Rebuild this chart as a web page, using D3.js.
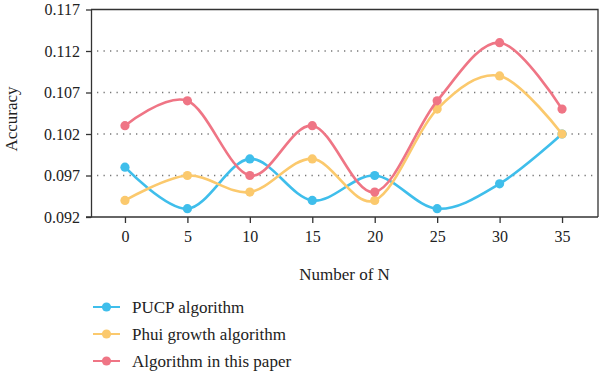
<!DOCTYPE html>
<html>
<head>
<meta charset="utf-8">
<script src="https://cdn.jsdelivr.net/npm/d3@7"></script>
<style>
  html, body { margin: 0; padding: 0; background: #fff; }
  svg text { font-family: "Liberation Serif", "DejaVu Serif", serif; fill: #222; }
</style>
</head>
<body>
<div id="chart"></div>
<script>
// Data
const nValues = [0, 5, 10, 15, 20, 25, 30, 35];
const pucp = [0.098, 0.093, 0.099, 0.094, 0.097, 0.093, 0.096, 0.102];
const phui = [0.094, 0.097, 0.095, 0.099, 0.094, 0.105, 0.109, 0.102];
const ours = [0.103, 0.106, 0.097, 0.103, 0.095, 0.106, 0.113, 0.105];
const yTicks = [0.092, 0.097, 0.102, 0.107, 0.112, 0.117];
const seriesNames = ["PUCP algorithm", "Phui growth algorithm", "Algorithm in this paper"];
const seriesColors = ["#3fbeeb", "#fbc96d", "#ef7585"];

const width = 600, height = 373;
const plotLeft = 91, plotRight = 598, plotTop = 9.5, plotBottom = 217;

const svg = d3.select("#chart").append("svg")
  .attr("width", width)
  .attr("height", height);

const x = d3.scaleLinear().domain([-2.72, 37.88]).range([plotLeft, plotRight]);
const y = d3.scaleLinear().domain([0.092, 0.117]).range([plotBottom, plotTop]);

// Dotted horizontal grid
svg.append("g")
  .selectAll("line")
  .data(yTicks.slice(1, -1))
  .join("line")
  .attr("x1", plotLeft + 6)
  .attr("x2", plotRight - 2)
  .attr("y1", d => y(d))
  .attr("y2", d => y(d))
  .attr("stroke", "#777")
  .attr("stroke-width", 1.3)
  .attr("stroke-dasharray", "1.3,5.2");

// Frame (top and right)
svg.append("path")
  .attr("d", `M ${plotLeft} ${plotTop} H ${plotRight} V ${plotBottom}`)
  .attr("fill", "none")
  .attr("stroke", "#333")
  .attr("stroke-width", 1.3);

// Axes
const xAxis = svg.append("g")
  .attr("transform", `translate(0,${plotBottom})`)
  .call(d3.axisBottom(x).tickValues(nValues).tickSize(6).tickPadding(8).tickSizeOuter(0));

const yAxis = svg.append("g")
  .attr("transform", `translate(${plotLeft},0)`)
  .call(d3.axisLeft(y).tickValues(yTicks).tickFormat(d3.format(".3f")).tickSize(5).tickPadding(6).tickSizeOuter(0));

[xAxis, yAxis].forEach(g => {
  g.select(".domain").attr("stroke", "#333").attr("stroke-width", 1.3);
  g.selectAll(".tick line").attr("stroke", "#333").attr("stroke-width", 1.3);
  g.selectAll(".tick text")
    .attr("font-family", "Liberation Serif, serif")
    .attr("font-size", "16px")
    .attr("fill", "#222");
});
// extend bottom axis line to the left under y ticks
xAxis.select(".domain").attr("d", `M${plotLeft - 5},0H${plotRight}`);

// Axis titles
svg.append("text")
  .attr("x", (plotLeft + plotRight) / 2)
  .attr("y", 280)
  .attr("text-anchor", "middle")
  .attr("font-size", "17px")
  .text("Number of N");

svg.append("text")
  .attr("transform", `translate(17,119) rotate(-90)`)
  .attr("text-anchor", "middle")
  .attr("font-size", "17px")
  .text("Accuracy");

// Lines and markers
const allSeries = [pucp, phui, ours];
const line = d3.line()
  .x((d, i) => x(nValues[i]))
  .y(d => y(d))
  .curve(d3.curveCardinal.tension(0));

allSeries.forEach((vals, k) => {
  svg.append("path")
    .datum(vals)
    .attr("d", line)
    .attr("fill", "none")
    .attr("stroke", seriesColors[k])
    .attr("stroke-width", 2.6);
  svg.append("g")
    .selectAll("circle")
    .data(vals)
    .join("circle")
    .attr("cx", (d, i) => x(nValues[i]))
    .attr("cy", d => y(d))
    .attr("r", 4.6)
    .attr("fill", seriesColors[k]);
});

// Legend
const legendY = [307, 334, 361];
seriesNames.forEach((name, k) => {
  const g = svg.append("g").attr("transform", `translate(0,${legendY[k]})`);
  g.append("line")
    .attr("x1", 93).attr("x2", 120)
    .attr("y1", 0).attr("y2", 0)
    .attr("stroke", seriesColors[k])
    .attr("stroke-width", 2);
  g.append("circle")
    .attr("cx", 106.5).attr("cy", 0)
    .attr("r", 4.6)
    .attr("fill", seriesColors[k]);
  g.append("text")
    .attr("x", 132)
    .attr("y", 0)
    .attr("dy", "0.35em")
    .attr("font-size", "17px")
    .text(name);
});
</script>
</body>
</html>
